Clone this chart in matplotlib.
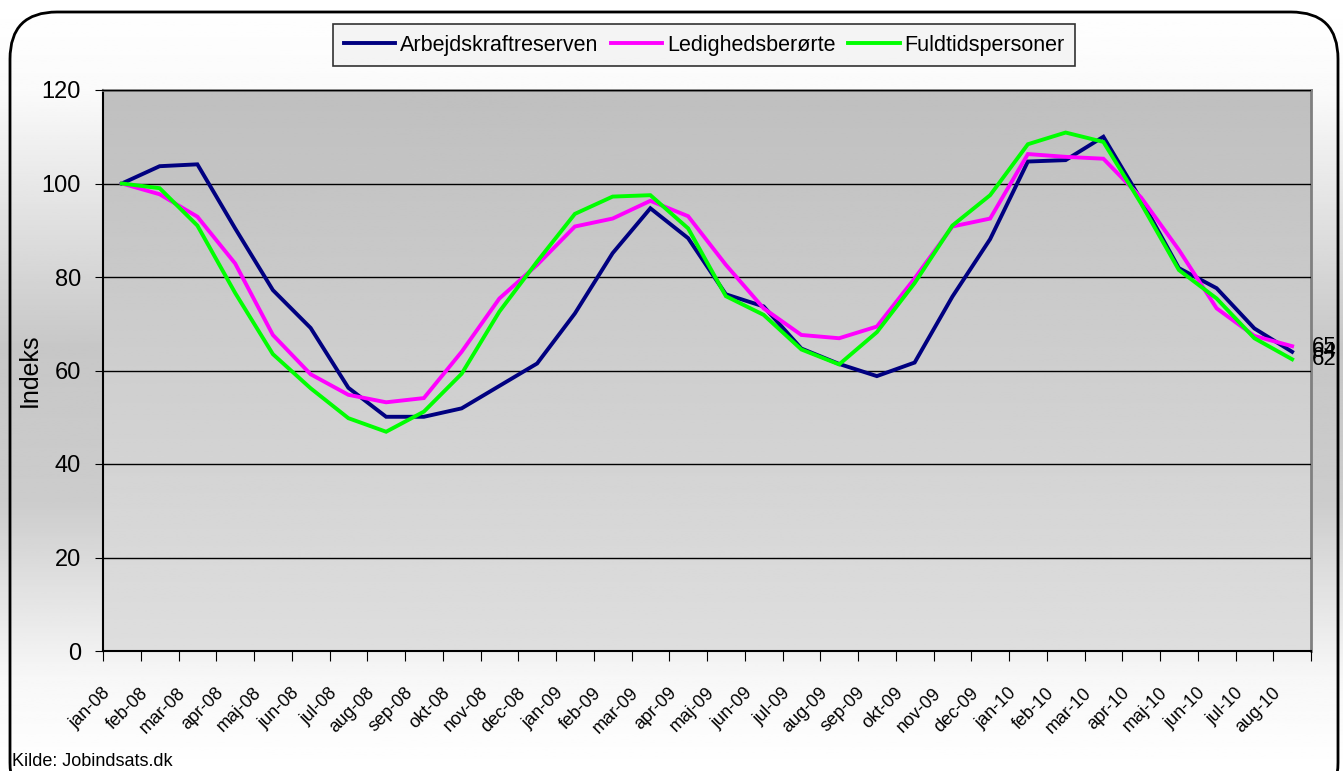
import numpy as np
import matplotlib.pyplot as plt
import matplotlib.transforms as mtransforms
from matplotlib.patches import FancyBboxPatch

plt.rcParams['font.family'] = ['Liberation Sans', 'DejaVu Sans']

months = ['jan-08', 'feb-08', 'mar-08', 'apr-08', 'maj-08', 'jun-08', 'jul-08', 'aug-08',
          'sep-08', 'okt-08', 'nov-08', 'dec-08', 'jan-09', 'feb-09', 'mar-09', 'apr-09',
          'maj-09', 'jun-09', 'jul-09', 'aug-09', 'sep-09', 'okt-09', 'nov-09', 'dec-09',
          'jan-10', 'feb-10', 'mar-10', 'apr-10', 'maj-10', 'jun-10', 'jul-10', 'aug-10']

arbejdskraft = [100, 103.7, 104.1, 90.4, 77.2, 69.1, 56.3, 50.1, 50.1, 51.9, 56.7, 61.5,
                72.2, 85.1, 94.7, 88.3, 76.3, 73.7, 64.7, 61.4, 58.8, 61.7, 75.8, 88.1,
                104.7, 105.0, 110.0, 96.5, 81.9, 77.6, 69.0, 64.0]
ledigheds = [100, 97.7, 92.9, 82.9, 67.6, 59.2, 54.8, 53.2, 54.1, 64.0, 75.4, 82.6,
             90.8, 92.5, 96.3, 93.0, 82.6, 73.3, 67.6, 66.9, 69.4, 79.7, 90.8, 92.5,
             106.3, 105.7, 105.3, 97.0, 85.8, 73.3, 67.4, 65.2]
fuldtids = [100, 99.0, 91.0, 76.6, 63.5, 56.2, 49.8, 46.9, 51.2, 59.3, 72.6, 83.3,
            93.5, 97.2, 97.5, 90.4, 75.9, 71.9, 64.5, 61.3, 68.2, 78.7, 91.0, 97.5,
            108.4, 110.9, 108.9, 95.7, 81.5, 75.4, 66.9, 62.4]

series = [('Arbejdskraftreserven', arbejdskraft, '#000080'),
          ('Ledighedsberørte', ledigheds, '#FF00FF'),
          ('Fuldtidspersoner', fuldtids, '#00FF00')]

W, H = 1343, 771
fig = plt.figure(figsize=(W / 100, H / 100), dpi=100)

# figure background: light at top and bottom, grey in the middle
bg = fig.add_axes([0, 0, 1, 1], zorder=-10)
stops_y = [0.0, 0.12, 0.45, 0.65, 0.88, 1.0]
stops_v = [1.0, 0.98, 0.78, 0.80, 0.97, 1.0]
yy = np.linspace(0, 1, 300)
grad = np.interp(yy, stops_y, stops_v)
bg.imshow(np.repeat(grad[:, None], 2, axis=1), cmap='gray', vmin=0, vmax=1,
          aspect='auto', extent=[0, 1, 0, 1], origin='upper')
bg.set_axis_off()

# rounded outer frame
frame = FancyBboxPatch((10 / W, -0.05), 1328 / W, (H - 12) / H + 0.05,
                       boxstyle='round,pad=0,rounding_size=0.035',
                       transform=fig.transFigure, fill=False, edgecolor='black',
                       linewidth=2, mutation_aspect=W / H)
fig.patches.append(frame)

ax = fig.add_axes([103 / W, 1 - 651 / H, (1311 - 103) / W, (651 - 90) / H])
ax.set_facecolor('none')
pg = np.linspace(0.75, 0.87, 200)
ax.imshow(np.repeat(pg[:, None], 2, axis=1), cmap='gray', vmin=0, vmax=1,
          aspect='auto', extent=[0, 1, 0, 1], origin='upper',
          transform=ax.transAxes, zorder=0)

x = np.arange(len(months))
for name, vals, col in series:
    ax.plot(x, vals, color=col, lw=2.8, label=name, zorder=3, solid_joinstyle='miter')
    ax.annotate(f'{round(vals[-1])}', xy=(x[-1], vals[-1]), xytext=(14, 0),
                textcoords='offset points', va='center', ha='left', fontsize=16,
                annotation_clip=False)

ax.set_xlim(-0.5, len(months) - 0.5)
ax.set_ylim(0, 120)
ax.set_yticks(range(0, 121, 20))
ax.yaxis.grid(True, color='black', lw=1)
ax.set_axisbelow(False)
for gl in ax.get_ygridlines():
    gl.set_zorder(1)
ax.tick_params(axis='y', labelsize=17, length=6, direction='out', pad=10)

ax.set_xticks(np.arange(-0.5, len(months), 1))
ax.set_xticklabels([])
ax.set_xticks(x, minor=True)
ax.set_xticklabels(months, minor=True, rotation=45, ha='right', va='top',
                   rotation_mode='anchor', fontsize=13)
ax.tick_params(axis='x', which='major', length=7, direction='out')
ax.tick_params(axis='x', which='minor', length=0, pad=24)
shift = mtransforms.ScaledTranslation(-20 / 100, 0, fig.dpi_scale_trans)
for lbl in ax.get_xticklabels(minor=True):
    lbl.set_transform(lbl.get_transform() + shift)

ax.set_ylabel('Indeks', fontsize=18, labelpad=0)

for s in ['left', 'bottom']:
    ax.spines[s].set_color('black')
    ax.spines[s].set_linewidth(1.5)
for s in ['top', 'right']:
    ax.spines[s].set_color('#808080')
    ax.spines[s].set_linewidth(2)

leg = fig.legend(loc='center', bbox_to_anchor=(704 / W, 1 - 45 / H), ncol=3,
                 fontsize=15.5, frameon=True, fancybox=False, handlelength=2.4,
                 handletextpad=0.2, columnspacing=0.6, borderpad=0.5)
leg.get_frame().set_edgecolor('black')
leg.get_frame().set_facecolor('#f2f2f2')
leg.get_frame().set_linewidth(1.2)

fig.text(12 / W, 1 - 761 / H, 'Kilde: Jobindsats.dk', fontsize=13, va='center', ha='left')

fig.savefig('out.png', dpi=100)
